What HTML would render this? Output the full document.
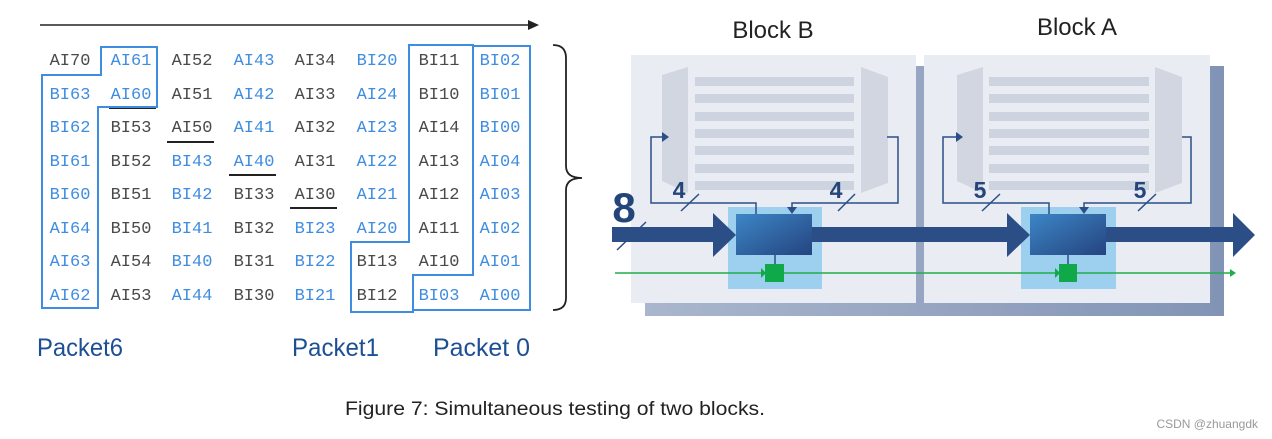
<!DOCTYPE html>
<html><head><style>
html,body{margin:0;padding:0;background:#fff;width:1272px;height:439px;overflow:hidden}
svg{display:block}
.t{font-family:"Liberation Mono",monospace;font-size:17px;text-anchor:middle}
.g{fill:#4a4a4a}.b{fill:#3f8de0}
</style></head><body>
<svg width="1272" height="439" viewBox="0 0 1272 439" xmlns="http://www.w3.org/2000/svg">
<defs>
<linearGradient id="blk" x1="0" y1="0" x2="1" y2="1"><stop offset="0" stop-color="#3d86c6"/><stop offset="1" stop-color="#24447f"/></linearGradient>
<linearGradient id="sh" x1="0" y1="0" x2="1" y2="0"><stop offset="0" stop-color="#a9b6cd"/><stop offset="1" stop-color="#8294b5"/></linearGradient>
</defs>
<line x1="40" y1="25" x2="530" y2="25" stroke="#222" stroke-width="1.5"/>
<polygon points="539,25 528,20 528,30" fill="#222"/>
<g class="t">
<text x="70" y="65" class="g">AI70</text><text x="131" y="65" class="b">AI61</text><text x="192" y="65" class="g">AI52</text><text x="254" y="65" class="b">AI43</text><text x="315" y="65" class="g">AI34</text><text x="377" y="65" class="b">BI20</text><text x="439" y="65" class="g">BI11</text><text x="500" y="65" class="b">BI02</text>
<text x="70" y="99" class="b">BI63</text><text x="131" y="99" class="b">AI60</text><text x="192" y="99" class="g">AI51</text><text x="254" y="99" class="b">AI42</text><text x="315" y="99" class="g">AI33</text><text x="377" y="99" class="b">AI24</text><text x="439" y="99" class="g">BI10</text><text x="500" y="99" class="b">BI01</text>
<text x="70" y="132" class="b">BI62</text><text x="131" y="132" class="g">BI53</text><text x="192" y="132" class="g">AI50</text><text x="254" y="132" class="b">AI41</text><text x="315" y="132" class="g">AI32</text><text x="377" y="132" class="b">AI23</text><text x="439" y="132" class="g">AI14</text><text x="500" y="132" class="b">BI00</text>
<text x="70" y="166" class="b">BI61</text><text x="131" y="166" class="g">BI52</text><text x="192" y="166" class="b">BI43</text><text x="254" y="166" class="b">AI40</text><text x="315" y="166" class="g">AI31</text><text x="377" y="166" class="b">AI22</text><text x="439" y="166" class="g">AI13</text><text x="500" y="166" class="b">AI04</text>
<text x="70" y="199" class="b">BI60</text><text x="131" y="199" class="g">BI51</text><text x="192" y="199" class="b">BI42</text><text x="254" y="199" class="g">BI33</text><text x="315" y="199" class="g">AI30</text><text x="377" y="199" class="b">AI21</text><text x="439" y="199" class="g">AI12</text><text x="500" y="199" class="b">AI03</text>
<text x="70" y="233" class="b">AI64</text><text x="131" y="233" class="g">BI50</text><text x="192" y="233" class="b">BI41</text><text x="254" y="233" class="g">BI32</text><text x="315" y="233" class="b">BI23</text><text x="377" y="233" class="b">AI20</text><text x="439" y="233" class="g">AI11</text><text x="500" y="233" class="b">AI02</text>
<text x="70" y="266" class="b">AI63</text><text x="131" y="266" class="g">AI54</text><text x="192" y="266" class="b">BI40</text><text x="254" y="266" class="g">BI31</text><text x="315" y="266" class="b">BI22</text><text x="377" y="266" class="g">BI13</text><text x="439" y="266" class="g">AI10</text><text x="500" y="266" class="b">AI01</text>
<text x="70" y="300" class="b">AI62</text><text x="131" y="300" class="g">AI53</text><text x="192" y="300" class="b">AI44</text><text x="254" y="300" class="g">BI30</text><text x="315" y="300" class="b">BI21</text><text x="377" y="300" class="g">BI12</text><text x="439" y="300" class="b">BI03</text><text x="500" y="300" class="b">AI00</text>
</g>
<g stroke="#222" stroke-width="2">
<line x1="109" y1="108" x2="156" y2="108"/><line x1="167" y1="142" x2="214" y2="142"/><line x1="229" y1="175" x2="276" y2="175"/><line x1="290" y1="208" x2="337" y2="208"/>
</g>
<g fill="none" stroke="#3f8de0" stroke-width="2">
<polygon points="101,47 157,47 157,107 98,107 98,308 42,308 42,75 101,75"/>
<polygon points="409,45 473,45 473,275 413,275 413,312 351,312 351,242 409,242"/>
<polygon points="473,46 530,46 530,310 413,310 413,275 473,275"/>
</g>
<path d="M553,45 Q566,45 566,58 L566,166 Q566,178 582,178 Q566,178 566,190 L566,298 Q566,310 553,310" fill="none" stroke="#222" stroke-width="1.8"/>
<g font-family="Liberation Sans,sans-serif" fill="#1d4f95" font-size="25">
<text x="37" y="356" textLength="86" lengthAdjust="spacingAndGlyphs">Packet6</text><text x="292" y="356" textLength="87" lengthAdjust="spacingAndGlyphs">Packet1</text><text x="433" y="356" textLength="97" lengthAdjust="spacingAndGlyphs">Packet 0</text>
</g>
<text x="345" y="415" font-family="Liberation Sans,sans-serif" font-size="19" fill="#222" textLength="420" lengthAdjust="spacingAndGlyphs">Figure 7: Simultaneous testing of two blocks.</text>
<text x="1258" y="428" font-family="Liberation Sans,sans-serif" font-size="12" fill="#999" text-anchor="end">CSDN @zhuangdk</text>
<g font-family="Liberation Sans,sans-serif" fill="#222" font-size="24" text-anchor="middle">
<text x="773" y="38">Block B</text><text x="1077" y="35">Block A</text>
</g>
<rect x="645" y="66" width="579" height="250" fill="url(#sh)"/>
<rect x="631" y="55" width="285" height="248" fill="#e9ecf3"/>
<rect x="924" y="55" width="286" height="248" fill="#e9ecf3"/>
<g fill="#d1d6e0">
<polygon points="662,75 688,67 688,193 662,181"/><polygon points="861,67 888,77 888,183 861,193"/>
<polygon points="957,75 983,67 983,193 957,181"/><polygon points="1155,67 1182,77 1182,183 1155,193"/>
</g>
<g fill="#cdd3df">
<rect x="695" y="77" width="159" height="9"/><rect x="695" y="94" width="159" height="9"/><rect x="695" y="112" width="159" height="9"/><rect x="695" y="129" width="159" height="9"/><rect x="695" y="146" width="159" height="9"/><rect x="695" y="164" width="159" height="9"/><rect x="695" y="181" width="159" height="9"/>
<rect x="989" y="77" width="160" height="9"/><rect x="989" y="94" width="160" height="9"/><rect x="989" y="112" width="160" height="9"/><rect x="989" y="129" width="160" height="9"/><rect x="989" y="146" width="160" height="9"/><rect x="989" y="164" width="160" height="9"/><rect x="989" y="181" width="160" height="9"/>
</g>
<rect x="728" y="207" width="94" height="82" fill="#9dd0ee"/>
<rect x="1021" y="207" width="95" height="82" fill="#9dd0ee"/>
<g fill="none" stroke="#2b4e87" stroke-width="1.5">
<polyline points="756,214 756,203 651,203 651,137 664,137"/>
<polyline points="887,137 898,137 898,203 792,203 792,210"/>
<polyline points="1049,214 1049,203 943,203 943,137 958,137"/>
<polyline points="1182,137 1191,137 1191,203 1084,203 1084,210"/>
</g>
<g fill="#2b4e87">
<polygon points="669,137 662,132 662,142"/><polygon points="963,137 956,132 956,142"/>
<polygon points="792,214 787,207 797,207"/><polygon points="1084,214 1079,207 1089,207"/>
</g>
<g fill="#2b4e87">
<rect x="612" y="227" width="102" height="15"/><polygon points="713,213 736,235 713,257"/>
<rect x="812" y="227" width="196" height="15"/><polygon points="1007,213 1030,235 1007,257"/>
<rect x="1106" y="227" width="128" height="15"/><polygon points="1233,213 1255,235 1233,257"/>
</g>
<rect x="736" y="214" width="76" height="41" fill="url(#blk)"/>
<rect x="1030" y="214" width="76" height="41" fill="url(#blk)"/>
<line x1="615" y1="273" x2="1232" y2="273" stroke="#1fae4b" stroke-width="1.5"/>
<polygon points="1236,273 1230,269 1230,277" fill="#1fae4b"/>
<line x1="775" y1="255" x2="775" y2="264" stroke="#2b4e87" stroke-width="1.5"/>
<line x1="1068" y1="255" x2="1068" y2="264" stroke="#2b4e87" stroke-width="1.5"/>
<rect x="765" y="264" width="19" height="18" fill="#0fa94a"/><rect x="1059" y="264" width="18" height="18" fill="#0fa94a"/>
<polygon points="766,273 761,268 761,278" fill="#0fa94a"/><polygon points="1060,273 1055,268 1055,278" fill="#0fa94a"/>
<g stroke="#2b4e87" stroke-width="1.5">
<line x1="681" y1="211" x2="699" y2="194"/><line x1="838" y1="211" x2="855" y2="194"/>
<line x1="982" y1="211" x2="1000" y2="194"/><line x1="1138" y1="211" x2="1156" y2="194"/>
<line x1="617" y1="250" x2="646" y2="222"/>
</g>
<g font-family="Liberation Sans,sans-serif" font-weight="bold" fill="#23457a" text-anchor="middle">
<text x="679" y="198" font-size="23">4</text><text x="836" y="198" font-size="23">4</text>
<text x="980" y="198" font-size="23">5</text><text x="1140" y="198" font-size="23">5</text>
<text x="624" y="222" font-size="42">8</text>
</g>
</svg>
</body></html>
